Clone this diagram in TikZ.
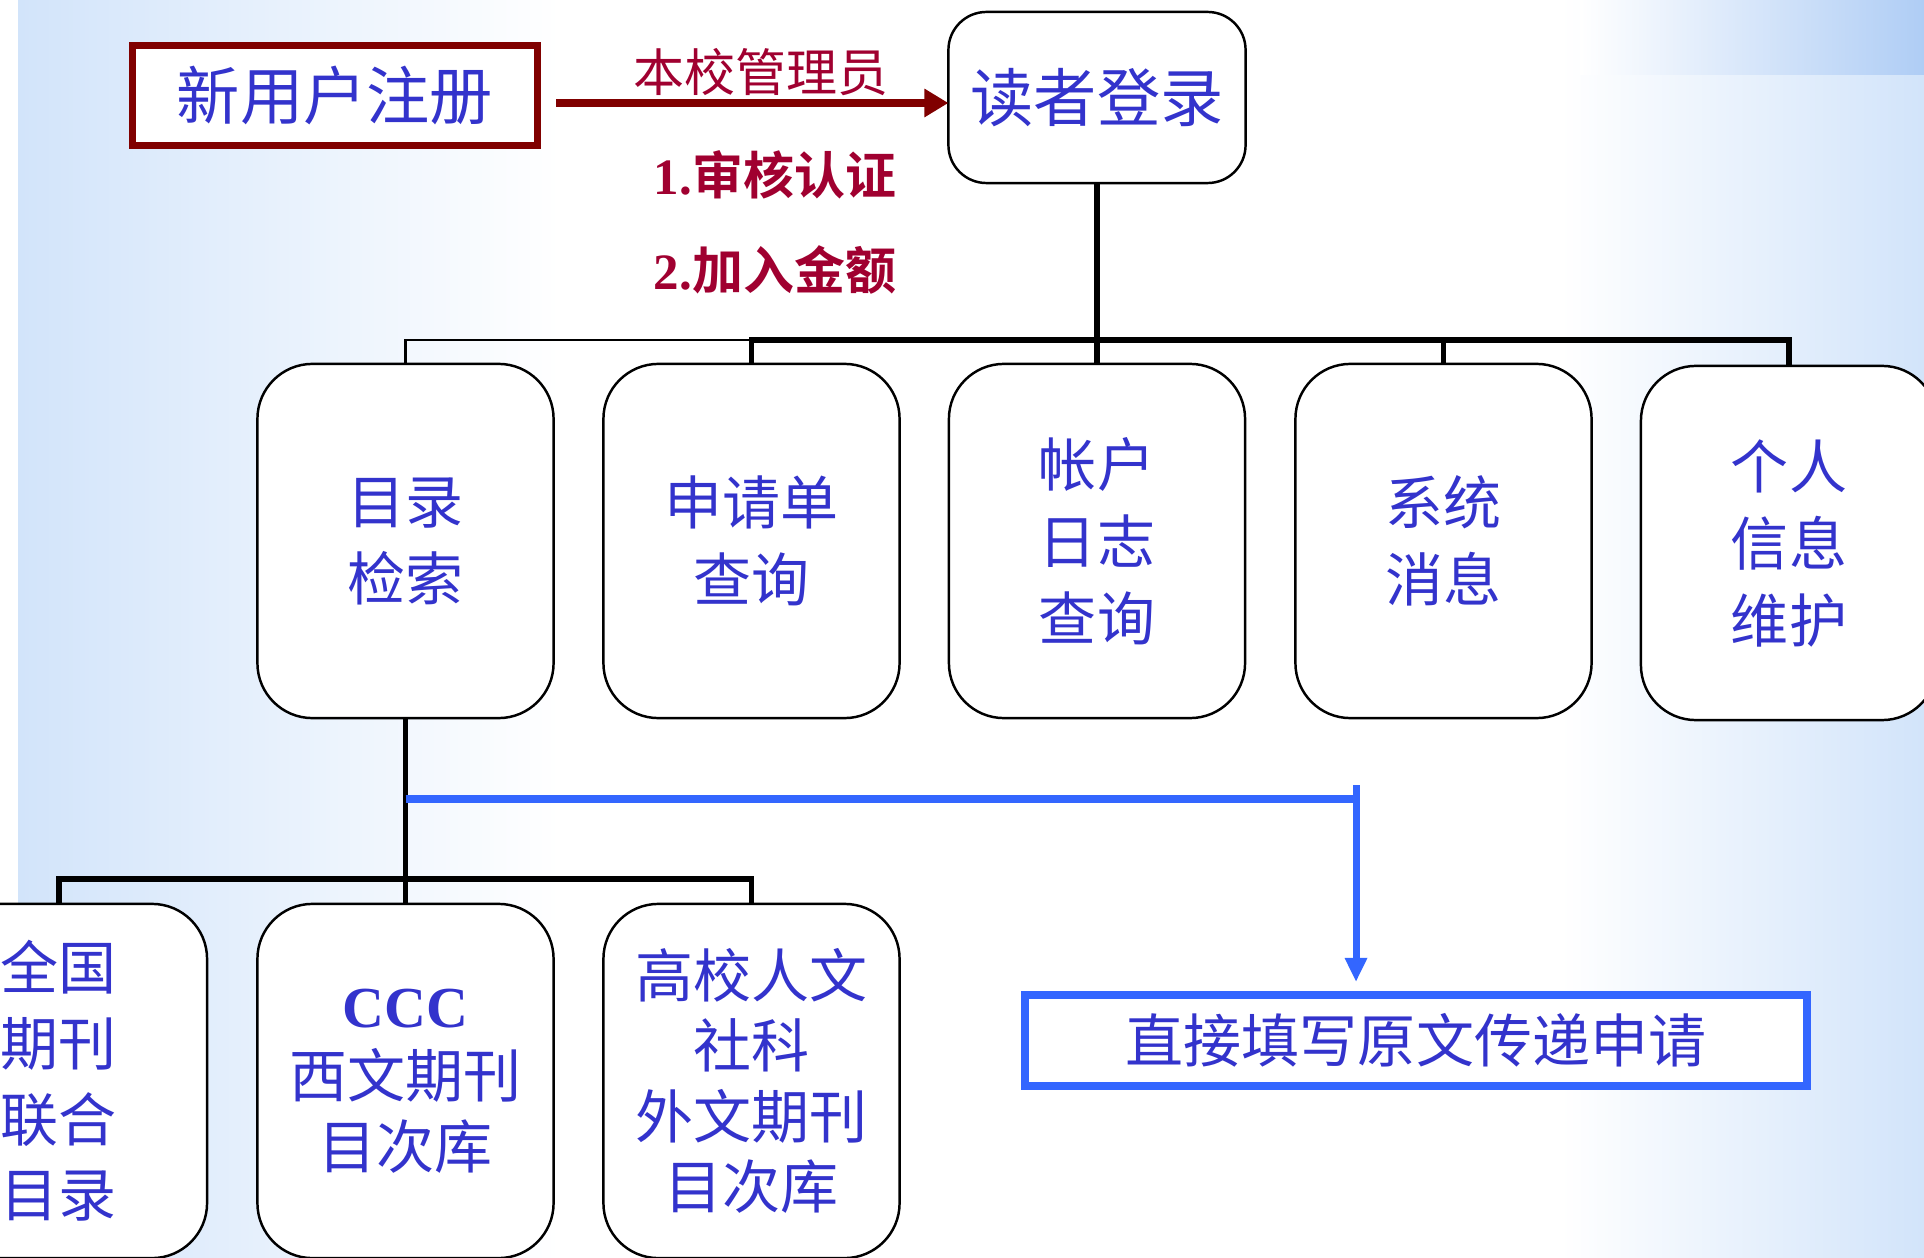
\documentclass[tikz,border=0pt]{standalone}
\usepackage{fontspec}
\setmainfont{Liberation Serif}
\newfontfamily\cjk{Noto Sans CJK SC}[BoldFont={Noto Sans CJK SC Bold}]
\usetikzlibrary{arrows.meta}

\definecolor{txtblue}{RGB}{51,51,204}
\definecolor{regred}{RGB}{128,0,0}
\definecolor{lblred}{RGB}{160,0,48}
\definecolor{lineblue}{RGB}{51,102,255}
\definecolor{bgblue}{RGB}{210,228,250}
\definecolor{bgdeep}{RGB}{175,205,245}

\begin{document}
\begin{tikzpicture}[x=0.01cm,y=-0.01cm,
  every node/.style={outer sep=0pt, inner sep=0pt, align=center},
  menu/.style={draw=black, line width=0.7pt, fill=white, rounded corners=0.55cm,
    minimum width=2.96cm, minimum height=3.54cm, text=txtblue,
    font=\cjk\fontsize{16.5}{21.9}\selectfont},
  submenu/.style={menu, font=\cjk\fontsize{16.5}{20}\selectfont},
  regbox/.style={draw=regred, line width=2pt, fill=white, minimum width=4.05cm,
    minimum height=1cm, text=txtblue, font=\cjk\fontsize{18}{22}\selectfont},
  loginbox/.style={draw=black, line width=0.7pt, fill=white, rounded corners=0.38cm,
    minimum width=2.97cm, minimum height=1.71cm, text=txtblue,
    font=\cjk\fontsize{18}{22}\selectfont},
  reqbox/.style={draw=lineblue, line width=2.2pt, fill=white, minimum width=7.82cm,
    minimum height=0.91cm, text=txtblue, font=\cjk\fontsize{16.5}{20}\selectfont},
  redlbl/.style={text=lblred, font=\cjk\bfseries\fontsize{14.5}{18}\selectfont},
  bar/.style={draw=black, line width=1.5pt},
  thinbar/.style={draw=black, line width=0.6pt},
  blueline/.style={draw=lineblue, line width=2pt}]

\clip (0,0) rectangle (1924,1258);

% background
\shade[left color=bgblue, right color=white] (18,0) rectangle (560,1258);
\shade[left color=white, right color=bgblue] (1560,0) rectangle (1924,1258);
\shade[left color=white, right color=bgdeep] (1580,0) rectangle (1924,75);

% top
\node[regbox] (reg) at (335,95.5) {新用户注册};
\node[loginbox] (login) at (1097,97.5) {读者登录};
\node[redlbl, font=\cjk\fontsize{14.5}{18}\selectfont] (lbl0) at (761,72) {本校管理员};
\node[redlbl] (lbl1) at (775,175) {{\rmfamily\bfseries 1.}审核认证};
\node[redlbl] (lbl2) at (775,270) {{\rmfamily\bfseries 2.}加入金额};

% second row
\node[menu] (mulu) at (405.5,541) {目录\\检索};
\node[menu] (sqd) at (751.5,541) {申请单\\查询};
\node[menu] (zhrz) at (1097,541) {帐户\\日志\\查询};
\node[menu] (xtxx) at (1443.5,541) {系统\\消息};
\node[menu] (grxx) at (1789,543) {个人\\信息\\维护};

% third row
\node[submenu, font=\cjk\fontsize{16.5}{21.5}\selectfont] (lhml) at (59,1081) {全国\\期刊\\联合\\目录};
\node[submenu] (ccc) at (405.5,1081) {{\rmfamily\bfseries CCC}\\西文期刊\\目次库};
\node[submenu] (gxrw) at (751.5,1081) {高校人文\\社科\\外文期刊\\目次库};

\node[reqbox] (ywcd) at (1416,1040.5) {直接填写原文传递申请};

\coordinate (ra) at (556,103);
\coordinate (bus) at (0,340);
\coordinate (bus2) at (0,879);
\coordinate (bend) at (1356,799);
\coordinate (btop) at (1356,785);

\draw[regred, line width=2.2pt, -{Triangle[length=0.24cm, width=0.27cm]}]
  (ra) -- (login.west |- ra);

\draw[bar] (login.south) -- (zhrz.north);
\draw[bar] (sqd.north) -- (sqd.north |- bus) -- (grxx.north |- bus) -- (grxx.north);
\draw[bar] (xtxx.north) -- (xtxx.north |- bus);
\draw[thinbar] (mulu.north) -- (mulu.north |- bus) -- (sqd.north |- bus);

\draw[bar] (mulu.south) -- (ccc.north);
\draw[bar] (lhml.north) -- (lhml.north |- bus2) -- (gxrw.north |- bus2) -- (gxrw.north);

\draw[blueline] (mulu.south |- bend) -- (bend);
\draw[blueline, -{Triangle[length=0.24cm, width=0.21cm]}, shorten >=0.13cm]
  (btop) -- (btop |- ywcd.north);
\end{tikzpicture}
\end{document}
